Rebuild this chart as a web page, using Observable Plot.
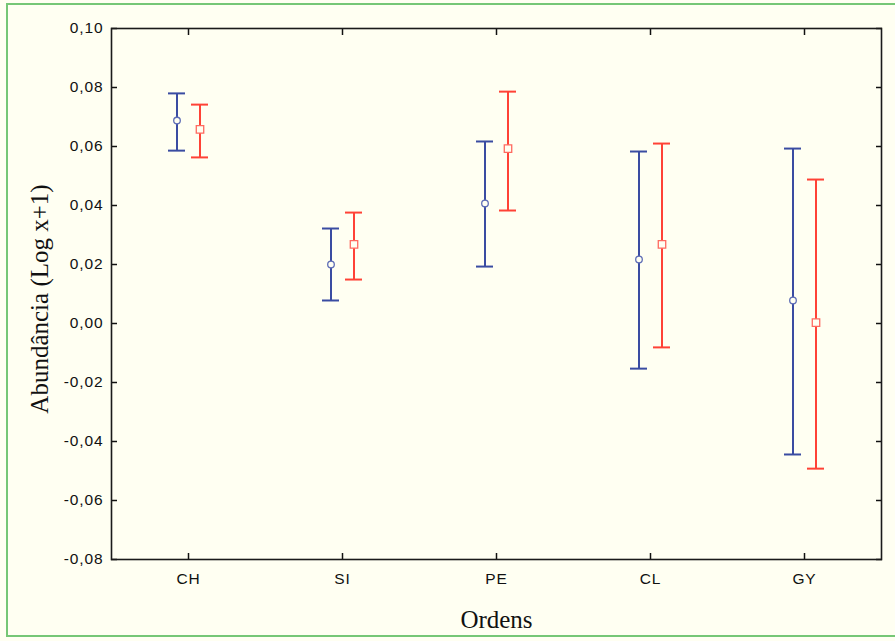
<!DOCTYPE html>
<html>
<head>
<meta charset="utf-8">
<script src="https://cdn.jsdelivr.net/npm/d3@7"></script>
<script src="https://cdn.jsdelivr.net/npm/@observablehq/plot@0.6"></script>
<style>
  html, body { margin: 0; padding: 0; background: #ffffff; overflow: hidden; }
  #wrap { position: relative; width: 895px; height: 641px; background: #fffff2; }
  #border { position: absolute; left: 6px; top: 3px; width: 900px; height: 634px; border: 2px solid #76c776; box-sizing: border-box; pointer-events: none; }
  #chart { position: absolute; left: 0; top: 0; }
</style>
</head>
<body>
<div id="wrap"><div id="chart"></div><div id="border"></div></div>
<script>
const categories = ["CH", "SI", "PE", "CL", "GY"];
const blueMean = [0.0688, 0.0200, 0.0407, 0.0217, 0.0078];
const blueLow  = [0.0586, 0.0078, 0.0193, -0.0153, -0.0444];
const blueHigh = [0.0780, 0.0322, 0.0617, 0.0583, 0.0593];
const redMean  = [0.0658, 0.0268, 0.0593, 0.0268, 0.0003];
const redLow   = [0.0563, 0.0149, 0.0383, -0.0081, -0.0492];
const redHigh  = [0.0742, 0.0376, 0.0786, 0.0610, 0.0488];
const yTicks = [-0.08, -0.06, -0.04, -0.02, 0.00, 0.02, 0.04, 0.06, 0.08, 0.10];
const yTitle = "Abundância (Log x+1)";
const xTitle = "Ordens";

const blueRows = categories.map((c, i) => ({cat: c, mean: blueMean[i], lo: blueLow[i], hi: blueHigh[i]}));
const redRows = categories.map((c, i) => ({cat: c, mean: redMean[i], lo: redLow[i], hi: redHigh[i]}));

const BLUE = "#3a4ca2";
const RED = "#ff4236";
const BG = "#fffff2";
const fmt = v => v.toFixed(2).replace(".", ",");
const capInset = 68.5;
const SERIF = "'Liberation Serif', 'Times New Roman', serif";

function series(rows, color, off, symbol, r, dotStroke) {
  return [
    Plot.ruleX(rows, {x: "cat", y1: "lo", y2: "hi", stroke: color, strokeWidth: 2, dx: off}),
    Plot.tickY(rows, {x: "cat", y: "hi", stroke: color, strokeWidth: 2, dx: off, insetLeft: capInset, insetRight: capInset}),
    Plot.tickY(rows, {x: "cat", y: "lo", stroke: color, strokeWidth: 2, dx: off, insetLeft: capInset, insetRight: capInset}),
    Plot.dot(rows, {x: "cat", y: "mean", symbol, r, fill: BG, stroke: dotStroke, strokeWidth: 1.3, dx: off})
  ];
}

const chart = Plot.plot({
  width: 895,
  height: 641,
  marginTop: 28,
  marginLeft: 111,
  marginRight: 14,
  marginBottom: 82,
  style: {background: "transparent", fontFamily: "'Liberation Sans', Arial, sans-serif", color: "#111"},
  x: {type: "band", domain: categories, padding: 0, axis: null},
  y: {domain: [-0.08, 0.10], axis: null},
  marks: [
    Plot.axisY({anchor: "left", ticks: yTicks, tickFormat: fmt, tickSize: 0, tickPadding: 8, label: null}),
    Plot.axisY({anchor: "left", ticks: yTicks, tickFormat: () => "", tickSize: -6, strokeWidth: 1.5, label: null}),
    Plot.axisY({anchor: "right", ticks: yTicks, tickFormat: () => "", tickSize: -6, strokeWidth: 1.5, label: null}),
    Plot.axisX({anchor: "bottom", tickSize: 0, tickPadding: 13, label: null}),
    Plot.axisX({anchor: "bottom", tickFormat: () => "", tickSize: -6, strokeWidth: 1.5, label: null}),
    Plot.axisX({anchor: "top", tickFormat: () => "", tickSize: -6, strokeWidth: 1.5, label: null}),
    Plot.frame({stroke: "#1a1a1a", strokeWidth: 1.6}),
    ...series(blueRows, BLUE, -11.5, "circle", 3.3, "#5d6cb5"),
    ...series(redRows, RED, 11.5, "square", 4.2, "#ff6a60"),
    Plot.text([yTitle], {frameAnchor: "left", rotate: -90, dx: -72, dy: 5, fill: "#111", lineAnchor: "middle", textAnchor: "middle"}),
    Plot.text([xTitle], {frameAnchor: "bottom", dy: 60, fill: "#111", lineAnchor: "middle", textAnchor: "middle"})
  ]
});
chart.querySelectorAll("text").forEach(t => {
  if (t.textContent === yTitle || t.textContent === xTitle) {
    t.style.fontSize = "25px";
    t.style.fontFamily = SERIF;
    t.style.letterSpacing = "0px";
  } else {
    t.style.fontSize = "15.5px";
    t.style.letterSpacing = "0.9px";
  }
});
document.getElementById("chart").appendChild(chart);
</script>
</body>
</html>
